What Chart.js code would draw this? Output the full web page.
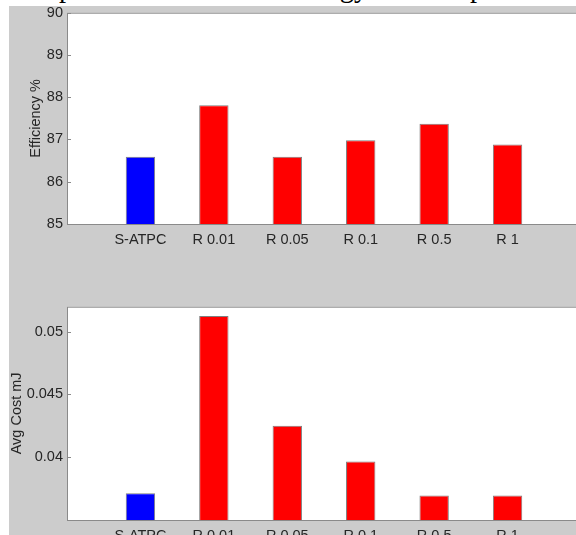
<!DOCTYPE html>
<html>
<head>
<meta charset="utf-8">
<script src="https://cdn.jsdelivr.net/npm/chart.js@4"></script>
<style>
html, body { margin: 0; overflow: hidden; }
body { width: 600px; height: 535px; background: #fff; position: relative; }
#title { position: absolute; left: 3.7px; top: -25.8px; font: 28.4px/28.4px "Liberation Serif", "Times New Roman", serif; white-space: nowrap; color: #000; }
#fig { position: absolute; left: 9px; top: 6px; width: 591px; height: 529px; background: #cccccc; }
#c1 { position: absolute; left: 0; top: 0; }
#c2 { position: absolute; left: 0; top: 260px; }
</style>
</head>
<body>
<div id="title">Comparison of Network Energy Consumption</div>
<div id="fig"></div>
<canvas id="c1" width="600" height="260"></canvas>
<canvas id="c2" width="600" height="275"></canvas>
<script>
var categories = ['S-ATPC', 'R 0.01', 'R 0.05', 'R 0.1', 'R 0.5', 'R 1'];
var efficiency = [86.59, 87.81, 86.59, 86.98, 87.37, 86.88];
var avgCost = [0.03706, 0.05131, 0.04249, 0.0396, 0.03687, 0.03687];
var efficiencyTicks = [85, 86, 87, 88, 89, 90];
var costTicks = [0.04, 0.045, 0.05];
var barColors = ['#0000ff', '#ff0000', '#ff0000', '#ff0000', '#ff0000', '#ff0000'];

var tickFont = { family: '"Liberation Sans", Arial, sans-serif', size: 14.5 };
var textColor = '#262626';
var lineColor = '#8a8a8a';

// white plot box, gray frame, inward y ticks like matlab
var axesBox = {
    id: 'axesBox',
    beforeDraw: function(chart) {
        var a = chart.chartArea, ctx = chart.ctx;
        ctx.save();
        ctx.fillStyle = '#ffffff';
        ctx.fillRect(a.left, a.top, a.right - a.left, a.bottom - a.top);
        ctx.restore();
    },
    afterDatasetsDraw: function(chart) {
        var a = chart.chartArea, ctx = chart.ctx;
        ctx.save();
        ctx.strokeStyle = lineColor;
        ctx.lineWidth = 1;
        ctx.strokeRect(a.left + 0.5, a.top + 0.5, a.right - a.left - 1, a.bottom - a.top);
        var ys = chart.scales.y;
        ctx.beginPath();
        ys.ticks.forEach(function(t) {
            var py = Math.round(ys.getPixelForValue(t.value)) + 0.5;
            ctx.moveTo(a.left, py);
            ctx.lineTo(a.left + 4, py);
        });
        ctx.stroke();
        ctx.restore();
    }
};

function makeChart(id, values, yMin, yMax, yTicks, yTitle, base, padTop, xHeight, titlePad) {
    var points = values.map(function(v, i) { return { x: i + 1, y: v }; });
    return new Chart(document.getElementById(id).getContext('2d'), {
        type: 'bar',
        data: {
            datasets: [{
                data: points,
                base: base,
                backgroundColor: barColors,
                borderColor: '#7f7f7f',
                borderWidth: 1,
                barPercentage: 0.4,
                categoryPercentage: 1
            }]
        },
        options: {
            responsive: false,
            animation: false,
            layout: { padding: { top: padTop, right: 19, left: 0, bottom: 0 } },
            plugins: {
                legend: { display: false },
                tooltip: { enabled: false }
            },
            scales: {
                x: {
                    type: 'linear',
                    min: 0,
                    max: 7,
                    offset: false,
                    grid: { display: false, drawTicks: false },
                    border: { display: false },
                    afterBuildTicks: function(s) {
                        s.ticks = categories.map(function(c, i) { return { value: i + 1 }; });
                    },
                    afterFit: function(s) { s.height = xHeight; },
                    ticks: {
                        font: tickFont,
                        color: textColor,
                        padding: 7,
                        maxRotation: 0,
                        autoSkip: false,
                        callback: function(v) { return categories[v - 1]; }
                    }
                },
                y: {
                    min: yMin,
                    max: yMax,
                    grid: { display: false, drawTicks: false },
                    border: { display: false },
                    afterBuildTicks: function(s) {
                        s.ticks = yTicks.map(function(v) { return { value: v }; });
                    },
                    afterFit: function(s) { s.width = 67; },
                    ticks: {
                        font: tickFont,
                        color: textColor,
                        padding: 4,
                        callback: function(v) { return String(v); }
                    },
                    title: {
                        display: true,
                        text: yTitle,
                        font: tickFont,
                        color: textColor,
                        padding: { top: titlePad, bottom: 0 }
                    }
                }
            }
        },
        plugins: [axesBox]
    });
}

makeChart('c1', efficiency, 85, 90, efficiencyTicks, 'Efficiency %', 85, 12, 36, 27);
makeChart('c2', avgCost, 0.0349, 0.05206, costTicks, 'Avg Cost mJ', 0, 46.7, 15, 8.3);
</script>
</body>
</html>
